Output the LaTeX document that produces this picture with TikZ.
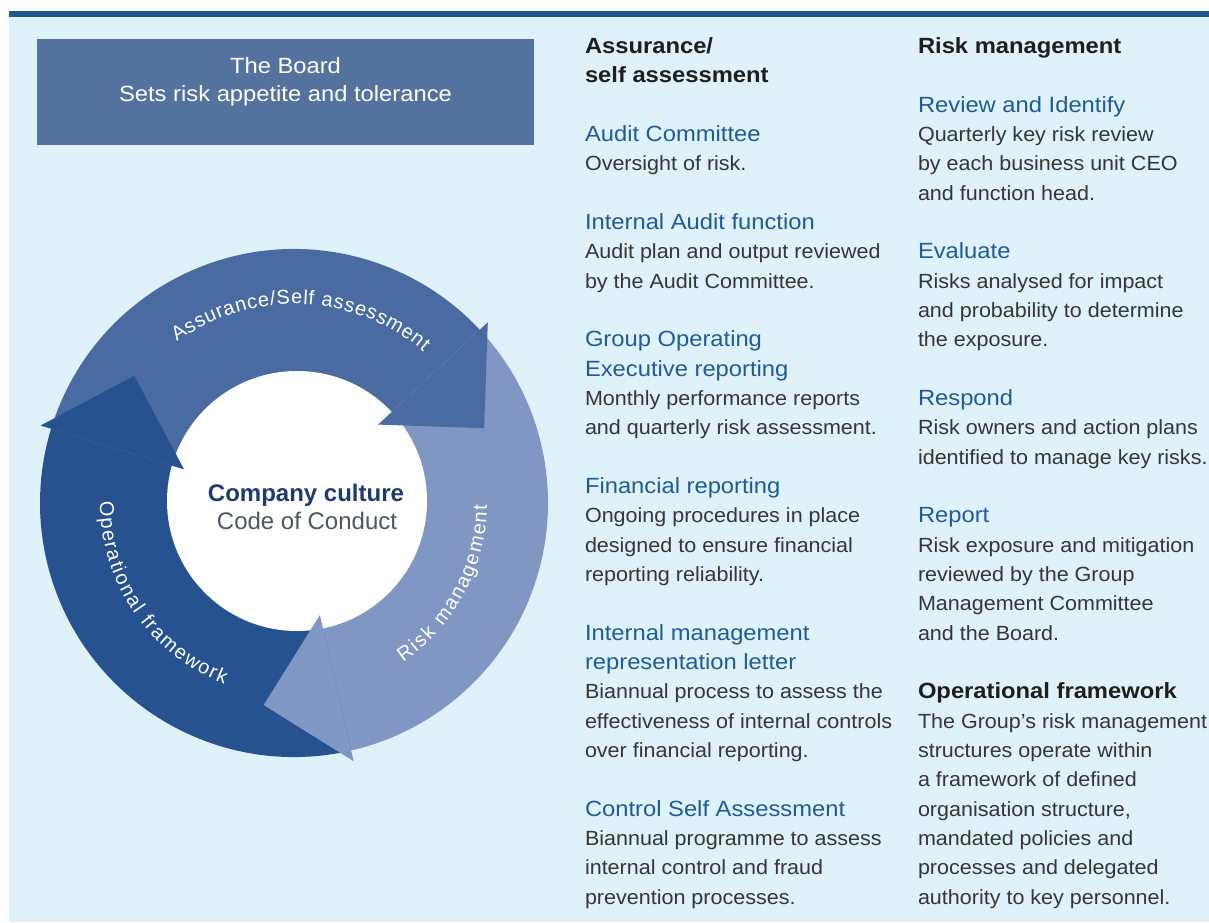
\documentclass[tikz,border=0pt]{standalone}
\usepackage{fontspec}
\setmainfont{Liberation Sans}
\newfontfamily\widefont{Liberation Sans}[FakeStretch=1.08]
\newfontfamily\bodyfont{Liberation Sans}[FakeStretch=1.05]
\usetikzlibrary{decorations.text}

\definecolor{bgblue}{HTML}{DFF1F9}
\definecolor{barblue}{HTML}{1A5A8E}
\definecolor{boardblue}{HTML}{54729E}
\definecolor{armmid}{HTML}{4A6BA1}
\definecolor{armlight}{HTML}{8096C3}
\definecolor{armdark}{HTML}{26528F}
\definecolor{headblue}{HTML}{1E5C96}
\definecolor{bodygray}{HTML}{363636}
\definecolor{titlegray}{HTML}{1E1E1E}
\definecolor{navy}{HTML}{1D3B6E}
\definecolor{conductgray}{HTML}{4D5563}

% line styles for the two text columns
\newcommand{\hdB}{\widefont\bfseries\fontsize{11}{13}\selectfont\color{titlegray}}
\newcommand{\hdC}{\widefont\fontsize{11}{13}\selectfont\color{headblue}}
\newcommand{\bdT}{\bodyfont\fontsize{10.25}{12}\selectfont\color{bodygray}}
\newcommand{\arcfont}{\fontsize{10}{11}\selectfont}

\begin{document}
\begin{tikzpicture}[x=0.5pt, y=0.5pt,
  txtline/.style={anchor=base west, inner sep=0pt, outer sep=0pt},
  boardline/.style={anchor=base, inner sep=0pt, text=white,
    font=\widefont\fontsize{11}{13}\selectfont},
  arclabel/.style={decorate, decoration={text along path,
    text align={fit to path}, text color=white, text={#1}}},
  centreline/.style={anchor=base, inner sep=0pt},
]
\useasboundingbox (0,0) rectangle (1209,-922);

% panel background and top rule
\fill[bgblue] (9,-17) rectangle (1209,-922);
\fill[barblue] (9,-11) rectangle (1209,-17);

% board box
\node[fill=boardblue, anchor=north west, inner sep=0pt, outer sep=0pt,
      minimum width=248.5pt, minimum height=53pt] (board) at (37,-39) {};
\node[boardline] (boardtitle) at (285.5,-73.3) {The Board};
\node[boardline] (boardsub) at (285.5,-101.7) {Sets risk appetite and tolerance};

% cycle of three arrows
\begin{scope}[shift={(294,-503)}]
  % arrow bodies
  \fill[armmid]   (0,0) -- (163:254) arc[start angle=163, end angle=43,   radius=254] -- cycle;
  \fill[armlight] (0,0) -- (43:254)  arc[start angle=43,  end angle=-77,  radius=254] -- cycle;
  \fill[armdark]  (0,0) -- (-77:254) arc[start angle=-77, end angle=-197, radius=254] -- cycle;
  % centre disc
  \node[circle, fill=white, inner sep=0pt, minimum size=130pt] (disc) at (3,2) {};
  % arrow heads
  \fill[armmid]   (43:115)  -- (43:265)  -- (21.46:204.3)  -- cycle;
  \fill[armlight] (-77:115) -- (-77:265) -- (-98.54:204.3) -- cycle;
  \fill[armdark]  (163:115) -- (163:265) -- (141.46:204.3) -- cycle;
  % arc labels
  \path[arclabel={|\arcfont|Assurance/Self assessment}]
    (126:199) arc[start angle=126, end angle=49.5, radius=199];
  \path[arclabel={|\arcfont|Risk management}]
    (-55.5:193) arc[start angle=-55.5, end angle=-0.5, radius=193];
  \path[arclabel={|\arcfont|Operational framework}]
    (179.5:194) arc[start angle=179.5, end angle=249, radius=194];
\end{scope}

\node[centreline, text=navy, font=\bfseries\fontsize{12}{14}\selectfont] (culture) at (306,-501.5) {Company culture};
\node[centreline, text=conductgray, font=\fontsize{12}{14}\selectfont] (conduct) at (307,-529) {Code of Conduct};

% left column
\foreach \n/\st/\txt in {
  0/\hdB/{Assurance/}, 1/\hdB/{self assessment},
  3/\hdC/{Audit Committee}, 4/\bdT/{Oversight of risk.},
  6/\hdC/{Internal Audit function}, 7/\bdT/{Audit plan and output reviewed},
  8/\bdT/{by the Audit Committee.},
  10/\hdC/{Group Operating}, 11/\hdC/{Executive reporting},
  12/\bdT/{Monthly performance reports}, 13/\bdT/{and quarterly risk assessment.},
  15/\hdC/{Financial reporting}, 16/\bdT/{Ongoing procedures in place},
  17/\bdT/{designed to ensure financial}, 18/\bdT/{reporting reliability.},
  20/\hdC/{Internal management}, 21/\hdC/{representation letter},
  22/\bdT/{Biannual process to assess the}, 23/\bdT/{effectiveness of internal controls},
  24/\bdT/{over financial reporting.},
  26/\hdC/{Control Self Assessment}, 27/\bdT/{Biannual programme to assess},
  28/\bdT/{internal control and fraud}, 29/\bdT/{prevention processes.}}
  \node[txtline] (L\n) at (585,{-53.6-29.33*\n}) {\st\txt};

% right column
\foreach \n/\st/\txt in {
  0/\hdB/{Risk management},
  2/\hdC/{Review and Identify}, 3/\bdT/{Quarterly key risk review},
  4/\bdT/{by each business unit CEO}, 5/\bdT/{and function head.},
  7/\hdC/{Evaluate}, 8/\bdT/{Risks analysed for impact},
  9/\bdT/{and probability to determine}, 10/\bdT/{the exposure.},
  12/\hdC/{Respond}, 13/\bdT/{Risk owners and action plans},
  14/\bdT/{identified to manage key risks.},
  16/\hdC/{Report}, 17/\bdT/{Risk exposure and mitigation},
  18/\bdT/{reviewed by the Group}, 19/\bdT/{Management Committee},
  20/\bdT/{and the Board.},
  22/\hdB/{Operational framework}, 23/\bdT/{The Group’s risk management},
  24/\bdT/{structures operate within}, 25/\bdT/{a framework of defined},
  26/\bdT/{organisation structure,}, 27/\bdT/{mandated policies and},
  28/\bdT/{processes and delegated}, 29/\bdT/{authority to key personnel.}}
  \node[txtline] (R\n) at (918,{-53.6-29.33*\n}) {\st\txt};
\end{tikzpicture}
\end{document}
